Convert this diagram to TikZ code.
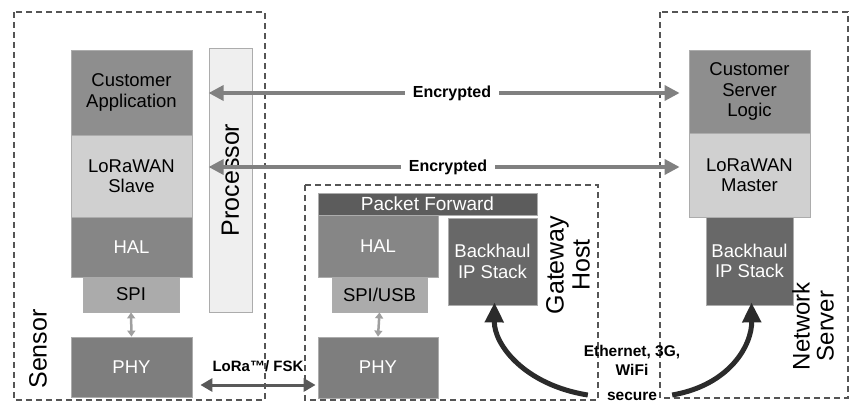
\documentclass[tikz,border=0pt]{standalone}
\usepackage{fontspec}
\setmainfont{Liberation Sans}
\usetikzlibrary{arrows.meta}
\definecolor{cApp}{HTML}{8E8E8E}
\definecolor{cLora}{HTML}{D0D0D0}
\definecolor{cHal}{HTML}{868686}
\definecolor{cSpi}{HTML}{ABABAB}
\definecolor{cPhy}{HTML}{7E7E7E}
\definecolor{cProc}{HTML}{EFEFEF}
\definecolor{cPf}{HTML}{5C5C5C}
\definecolor{cBh}{HTML}{686868}
\definecolor{cDash}{HTML}{555555}
\definecolor{cArr}{HTML}{808080}
\definecolor{cDark}{HTML}{2B2B2B}
\tikzset{
  blk/.style={draw=gray!65, line width=0.8pt, inner sep=0pt, align=center,
    font=\fontsize{18.5}{20.5}\selectfont},
  wtxt/.style={text=white},
  grp/.style={draw=cDash, line width=1.2pt, dash pattern=on 6pt off 4pt},
  bigrot/.style={rotate=90, align=center, font=\fontsize{25}{26}\selectfont},
  enc/.style={fill=white, inner xsep=8pt, inner ysep=2pt, font=\bfseries\fontsize{16}{17}\selectfont},
  encarrow/.style={draw=cArr, line width=3.5pt, {Triangle[length=15pt,width=15pt]}-{Triangle[length=15pt,width=15pt]}},
  smallarrow/.style={draw=gray!75, line width=2.5pt, {Triangle[length=6pt,width=8pt]}-{Triangle[length=6pt,width=8pt]}},
  curvearrow/.style={draw=cDark, line width=5pt, -{Triangle[length=20pt,width=18pt]}},
}
\begin{document}
\begin{tikzpicture}[x=1pt,y=-1pt]
\useasboundingbox (0,0) rectangle (849,405);
% group boxes
\draw[grp] (14,12) rectangle (265,400);
\draw[grp] (305,185) rectangle (598,400);
\draw[grp] (660,12) rectangle (848,398);
% Sensor
\node[blk, fill=cApp, minimum width=121pt, minimum height=85pt] (capp) at (131.5,92.5) {Customer\\Application};
\node[blk, fill=cLora, minimum width=121pt, minimum height=82pt] (slave) at (131.5,176) {LoRaWAN\\Slave};
\node[blk, wtxt, fill=cHal, minimum width=121pt, minimum height=60pt] (shal) at (131.5,247) {HAL};
\node[blk, fill=cSpi, minimum width=96pt, minimum height=35pt] (sspi) at (131,294.5) {SPI};
\node[blk, wtxt, fill=cPhy, minimum width=121pt, minimum height=60pt] (sphy) at (131.5,367) {PHY};
\node[blk, fill=cProc, minimum width=43pt, minimum height=264pt] (proc) at (230.5,180) {};
\node[bigrot] (proclbl) at (proc.center) {Processor};
\node[bigrot] (sensorlbl) at (38,349) {Sensor};
% Gateway
\node[blk, wtxt, fill=cPf, minimum width=219pt, minimum height=22pt, font=\fontsize{19}{19}\selectfont] (pf) at (427.5,204) {Packet Forward};
\node[blk, wtxt, fill=cHal, minimum width=120pt, minimum height=62pt] (ghal) at (378,246) {HAL};
\node[blk, fill=cSpi, minimum width=95pt, minimum height=35pt] (gspi) at (379.5,294.5) {SPI/USB};
\node[blk, wtxt, fill=cPhy, minimum width=120pt, minimum height=61pt] (gphy) at (378,367.5) {PHY};
\node[blk, wtxt, fill=cBh, minimum width=89pt, minimum height=87pt] (gbh) at (492.5,261.5) {Backhaul\\IP Stack};
\node[bigrot] (gwlbl) at (568,265) {Gateway\\Host};
% Network server
\node[blk, fill=cApp, minimum width=121pt, minimum height=83pt] (csl) at (749.5,91.5) {Customer\\Server\\Logic};
\node[blk, fill=cLora, minimum width=121pt, minimum height=84pt] (master) at (749.5,175) {LoRaWAN\\Master};
\node[blk, wtxt, fill=cBh, minimum width=87pt, minimum height=88pt] (nbh) at (749.5,261) {Backhaul\\IP Stack};
\node[bigrot, font=\fontsize{24}{24}\selectfont] (nslbl) at (813,326) {Network\\Server};
% connectors
\coordinate (e1l) at (proc.west |- 0,93);
\coordinate (e1r) at ([xshift=-9pt]csl.west |- 0,93);
\coordinate (e2l) at (proc.west |- 0,167);
\coordinate (e2r) at ([xshift=-9pt]master.west |- 0,167);
\draw[encarrow] (e1l) -- (e1r);
\draw[encarrow] (e2l) -- (e2r);
\node[enc] (enc1) at (452,93) {Encrypted};
\node[enc] (enc2) at (448,167) {Encrypted};
\draw[smallarrow] (sspi.south) -- (sphy.north);
\draw[smallarrow] (gspi.south) -- (gphy.north);
\coordinate (loral) at ([xshift=8pt]sphy.east |- 0,385);
\coordinate (lorar) at ([xshift=-2pt]gphy.west |- 0,385);
\draw[draw=gray!70!black, line width=3pt, {Triangle[length=12pt,width=13pt]}-{Triangle[length=12pt,width=13pt]}] (loral) -- (lorar);
\node[font=\bfseries\fontsize{15}{17}\selectfont, inner sep=0pt] (loralbl) at (258,366) {LoRa™/ FSK};
\node[font=\bfseries\fontsize{15.5}{19}\selectfont, align=center, inner sep=0pt] (eth) at (632,360) {Ethernet, 3G,\\WiFi};
\node[font=\bfseries\fontsize{15.5}{17}\selectfont, inner sep=0pt] (secure) at (632,396) {secure};
\coordinate (cl) at ([xshift=-19pt,yshift=1pt]secure.west);
\coordinate (cr) at ([xshift=15pt,yshift=1pt]secure.east);
\draw[curvearrow] (cl) .. controls (525,385) and (494,345) .. ([xshift=2pt,yshift=3pt]gbh.south);
\draw[curvearrow] (cr) .. controls (730,385) and (752,345) .. ([xshift=2pt,yshift=3pt]nbh.south);
\end{tikzpicture}
\end{document}
